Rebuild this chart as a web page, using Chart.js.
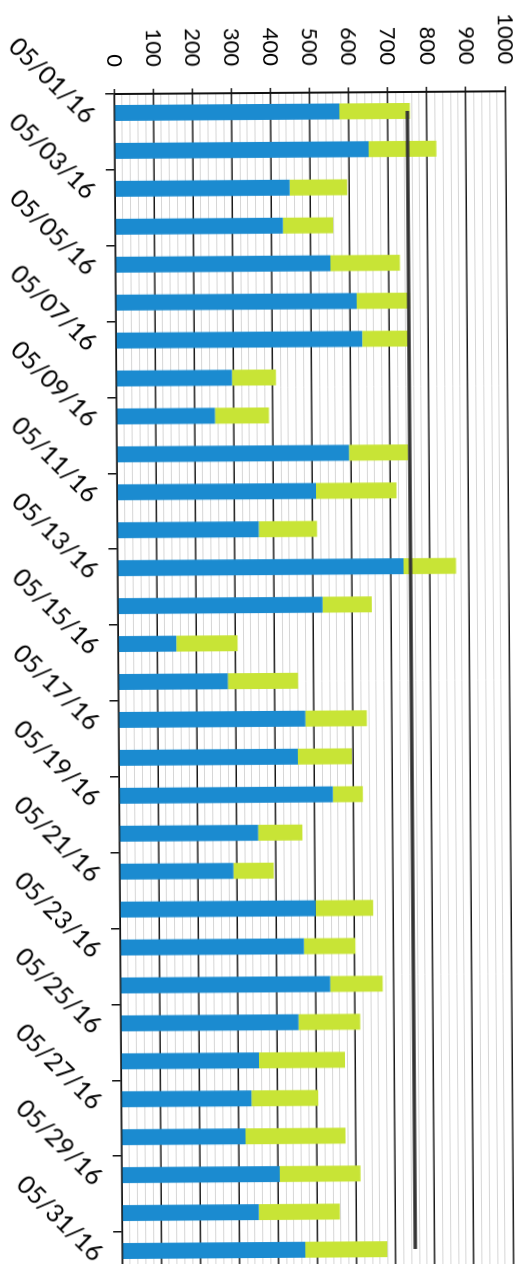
<!DOCTYPE html>
<html>
<head>
<meta charset="utf-8">
<script src="https://cdn.jsdelivr.net/npm/chart.js@4/dist/chart.umd.min.js"></script>
<style>
  html, body { margin: 0; padding: 0; background: #fff; }
  body { width: 526px; height: 1264px; overflow: hidden; position: relative; }
  #page { position: absolute; left: 0; top: 0; width: 526px; height: 1264px;
          transform-origin: 263px 632px; transform: rotate(-0.4deg); }
  #wrap { position: absolute; left: 0; top: 0; width: 1280px; height: 544px;
          transform-origin: 0 0; transform: translate(544px, 0) rotate(90deg); }
</style>
</head>
<body>
<div id="page">
  <div id="wrap"><canvas id="chart" width="1280" height="544"></canvas></div>
</div>
<script>
// days of May 2016
const days = [
  '05/01/16', '05/02/16', '05/03/16', '05/04/16', '05/05/16', '05/06/16', '05/07/16', '05/08/16',
  '05/09/16', '05/10/16', '05/11/16', '05/12/16', '05/13/16', '05/14/16', '05/15/16', '05/16/16',
  '05/17/16', '05/18/16', '05/19/16', '05/20/16', '05/21/16', '05/22/16', '05/23/16', '05/24/16',
  '05/25/16', '05/26/16', '05/27/16', '05/28/16', '05/29/16', '05/30/16', '05/31/16'
];
// lower (blue) part of each bar
const blueVals = [
  576, 650, 447, 429, 550, 617, 630, 296, 252, 594, 509, 362, 732, 524, 149, 280,
  478, 458, 547, 355, 291, 501, 470, 537, 455, 353, 333, 317, 404, 350, 468
];
// upper (green) part stacked on top
const greenVals = [
  180, 173, 147, 129, 178, 136, 118, 113, 138, 151, 206, 149, 134, 126, 157, 180,
  157, 138, 77, 113, 103, 147, 132, 134, 158, 220, 171, 256, 207, 207, 210
];
const target = days.map(() => 750);
const valueTicks = [0, 100, 200, 300, 400, 500, 600, 700, 800, 900, 1000];

const BLUE = '#1b8bd0';
const GREEN = '#c8e436';
const FONT = 'Lato';

new Chart(document.getElementById('chart'), {
  type: 'bar',
  data: {
    labels: days,
    datasets: [
      { type: 'line', data: target, borderColor: '#333', borderWidth: 3.5,
        pointRadius: 0, fill: false, order: 0 },
      { data: blueVals, backgroundColor: BLUE, order: 1 },
      { data: greenVals, backgroundColor: GREEN, order: 1 }
    ]
  },
  options: {
    responsive: false,
    animation: false,
    devicePixelRatio: 1,
    layout: { padding: { top: 2, right: 11, left: 0, bottom: 0 } },
    plugins: { legend: { display: false }, tooltip: { enabled: false } },
    datasets: { bar: { categoryPercentage: 1, barPercentage: 0.42 } },
    scales: {
      x: {
        stacked: true,
        offset: true,
        border: { display: true, color: '#111', width: 1.5 },
        grid: {
          offset: true,
          drawOnChartArea: false,
          tickLength: 9,
          lineWidth: 1.5,
          color: c => c.index % 2 === 0 ? '#111' : 'rgba(0,0,0,0)'
        },
        ticks: {
          autoSkip: false,
          minRotation: 45,
          maxRotation: 45,
          padding: 4,
          labelOffset: 6,
          color: '#000',
          font: { family: FONT, size: 25 },
          callback: (v, i) => i % 2 === 0 ? days[i] : ''
        },
        afterFit: s => { s.height = 118; }
      },
      y: {
        stacked: true,
        min: 0,
        max: 1000,
        border: { display: true, color: '#111', width: 2 },
        grid: {
          tickLength: 5,
          lineWidth: c => c.tick && valueTicks.includes(c.tick.value) ? 1.5 : 1,
          color: c => c.tick && valueTicks.includes(c.tick.value) ? '#1a1a1a' : '#d6d6d6',
          tickColor: c => c.tick && valueTicks.includes(c.tick.value) ? '#1a1a1a' : 'rgba(0,0,0,0)'
        },
        ticks: {
          stepSize: 20,
          autoSkip: false,
          padding: 22,
          color: '#000',
          font: { family: FONT, size: 22 },
          callback: v => valueTicks.includes(v) ? String(v) : ''
        },
        afterFit: s => { s.width = 93; }
      }
    }
  }
});
</script>
</body>
</html>
